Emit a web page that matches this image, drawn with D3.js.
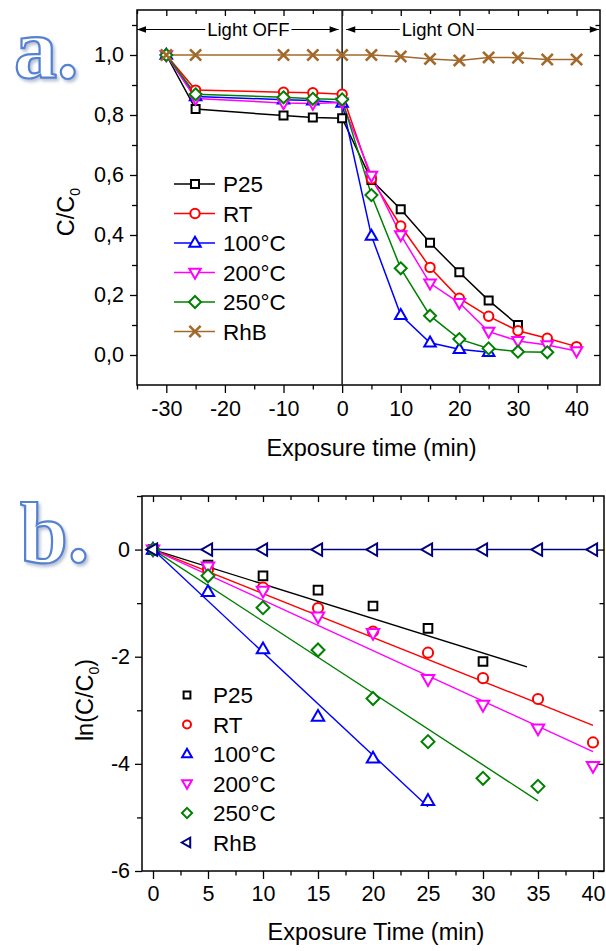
<!DOCTYPE html>
<html>
<head>
<meta charset="utf-8">
<script src="https://cdn.jsdelivr.net/npm/d3@7"></script>
<style>
  body { margin: 0; background: #fff; }
  svg { display: block; }
  text { font-family: "Liberation Sans", Arial, sans-serif; fill: #000; }
</style>
</head>
<body>
<svg id="chart" width="606" height="951"></svg>
<script>
// ---------- shared series definitions ----------
const seriesNames = ["P25", "RT", "100°C", "200°C", "250°C", "RhB"];
const colorsA = ["#000000", "#ff0000", "#0000ff", "#ff00ff", "#008000", "#a2692b"];
const colorsB = ["#000000", "#ff0000", "#0000ff", "#ff00ff", "#008000", "#000080"];
const shapesA = ["square", "circle", "triangleUp", "triangleDown", "diamond", "cross"];
const shapesB = ["square", "circle", "triangleUp", "triangleDown", "diamond", "triangleLeft"];

// ---------- panel a: C/C0 versus exposure time ----------
const timesP25A  = [-30, -25, -10, -5, 0, 5, 10, 15, 20, 25, 30];
const valuesP25A = [1.0, 0.820, 0.798, 0.792, 0.789, 0.583, 0.486, 0.374, 0.276, 0.182, 0.100];
const timesRTA   = [-30, -25, -10, -5, 0, 5, 10, 15, 20, 25, 30, 35, 40];
const valuesRTA  = [1.0, 0.883, 0.876, 0.874, 0.869, 0.587, 0.430, 0.292, 0.189, 0.129, 0.081, 0.056, 0.028];
const times100A  = [-30, -25, -10, -5, 0, 5, 10, 15, 20, 25];
const values100A = [1.0, 0.862, 0.851, 0.848, 0.840, 0.397, 0.133, 0.041, 0.019, 0.009];
const times200A  = [-30, -25, -10, -5, 0, 5, 10, 15, 20, 25, 30, 35, 40];
const values200A = [1.0, 0.855, 0.840, 0.838, 0.842, 0.598, 0.400, 0.239, 0.174, 0.078, 0.047, 0.033, 0.013];
const times250A  = [-30, -25, -10, -5, 0, 5, 10, 15, 20, 25, 30, 35];
const values250A = [1.0, 0.869, 0.859, 0.854, 0.852, 0.533, 0.289, 0.131, 0.053, 0.022, 0.011, 0.009];
const timesRhBA  = [-30, -25, -10, -5, 0, 5, 10, 15, 20, 25, 30, 35, 40];
const valuesRhBA = [1.0, 1.0, 1.0, 1.0, 1.0, 1.0, 0.995, 0.987, 0.982, 0.992, 0.991, 0.985, 0.985];

const xTicksA = [-30, -20, -10, 0, 10, 20, 30, 40];
const xMinorA = [-35, -25, -15, -5, 5, 15, 25, 35];
const yTicksA = [0.0, 0.2, 0.4, 0.6, 0.8, 1.0];
const yMinorA = [-0.1, 0.1, 0.3, 0.5, 0.7, 0.9, 1.1];

// ---------- panel b: ln(C/C0) versus exposure time ----------
const timesP25B  = [0, 5, 10, 15, 20, 25, 30];
const valuesP25B = [0, -0.29, -0.49, -0.756, -1.054, -1.47, -2.09];
const timesRTB   = [0, 5, 10, 15, 20, 25, 30, 35, 40];
const valuesRTB  = [0, -0.37, -0.71, -1.09, -1.53, -1.925, -2.40, -2.79, -3.60];
const times100B  = [0, 5, 10, 15, 20, 25];
const values100B = [0, -0.79, -1.86, -3.12, -3.90, -4.69];
const times200B  = [0, 5, 10, 15, 20, 25, 30, 35, 40];
const values200B = [0, -0.32, -0.77, -1.25, -1.56, -2.42, -2.90, -3.34, -4.04];
const times250B  = [0, 5, 10, 15, 20, 25, 30, 35];
const values250B = [0, -0.49, -1.085, -1.875, -2.78, -3.585, -4.27, -4.42];
const timesRhBB  = [0, 5, 10, 15, 20, 25, 30, 35, 40];
const valuesRhBB = [0, 0, 0, 0, 0, 0, 0, 0, 0];

// linear fits: start point and end point of each fitted line
const fitStartT = [0, 0, 0, 0, 0, 0];
const fitStartV = [0, 0, 0, 0, 0, 0];
const fitEndT   = [34, 40, 25, 40, 35, 40];
const fitEndV   = [-2.19, -3.28, -4.80, -3.77, -4.69, 0];

const xTicksB = [0, 5, 10, 15, 20, 25, 30, 35, 40];
const xMinorB = [2.5, 7.5, 12.5, 17.5, 22.5, 27.5, 32.5, 37.5];
const yTicksB = [0, -2, -4, -6];
const yMinorB = [1, -1, -3, -5];

// ---------- helpers ----------
const svg = d3.select("#chart");

function markerPath(shape, k) {
  // k scales the marker size
  const s = 4.0 * k, r = 4.7 * k, w = 11.5 * k, h = 10 * k, d = 6.0 * k, c = 5.6 * k;
  switch (shape) {
    case "square": return `M${-s},${-s}H${s}V${s}H${-s}Z`;
    case "circle": return `M${r},0A${r},${r} 0 1,1 ${-r},0A${r},${r} 0 1,1 ${r},0Z`;
    case "triangleUp": return `M0,${-h * 0.62}L${w / 2},${h * 0.38}L${-w / 2},${h * 0.38}Z`;
    case "triangleDown": return `M0,${h * 0.62}L${w / 2},${-h * 0.38}L${-w / 2},${-h * 0.38}Z`;
    case "triangleLeft": return `M${-h * 0.62},0L${h * 0.38},${-w / 2}L${h * 0.38},${w / 2}Z`;
    case "diamond": return `M0,${-d}L${d},0L0,${d}L${-d},0Z`;
    case "cross": return `M${-c},${-c}L${c},${c}M${-c},${c}L${c},${-c}`;
  }
}

function drawMarkers(g, pts, shape, color, k) {
  g.selectAll(null).data(pts).enter().append("path")
    .attr("transform", p => `translate(${p[0]},${p[1]})`)
    .attr("d", markerPath(shape, k))
    .attr("fill", shape === "cross" ? "none" : "#fff")
    .attr("stroke", color)
    .attr("stroke-width", shape === "cross" ? 2.6 : 2);
}

function styleAxis(g, fontSize) {
  g.select(".domain").remove();
  g.selectAll(".tick line").attr("stroke", "#000").attr("stroke-width", 1.3);
  g.selectAll(".tick text").attr("font-size", fontSize).attr("fill", "#000");
}

function frameAxes(x, y, xT, xM, yT, yM, opts) {
  const [x0, x1] = x.range();
  const [y0, y1] = y.range(); // y0 bottom, y1 top
  // bottom: outward ticks with labels
  const gb = svg.append("g").attr("transform", `translate(0,${y0})`)
    .call(d3.axisBottom(x).tickValues(xT).tickSize(8).tickPadding(opts.xPad).tickFormat(opts.xFmt));
  styleAxis(gb, opts.fs);
  const gbm = svg.append("g").attr("transform", `translate(0,${y0})`)
    .call(d3.axisBottom(x).tickValues(xM).tickSize(4.5).tickFormat(""));
  styleAxis(gbm, opts.fs);
  // top: inward ticks
  const gt = svg.append("g").attr("transform", `translate(0,${y1})`)
    .call(d3.axisBottom(x).tickValues(xT).tickSize(6).tickFormat(""));
  styleAxis(gt, opts.fs);
  const gtm = svg.append("g").attr("transform", `translate(0,${y1})`)
    .call(d3.axisBottom(x).tickValues(xM).tickSize(4).tickFormat(""));
  styleAxis(gtm, opts.fs);
  // left: outward ticks with labels
  const gl = svg.append("g").attr("transform", `translate(${x0},0)`)
    .call(d3.axisLeft(y).tickValues(yT).tickSize(7).tickPadding(opts.yPad).tickFormat(opts.yFmt));
  styleAxis(gl, opts.fs);
  const glm = svg.append("g").attr("transform", `translate(${x0},0)`)
    .call(d3.axisLeft(y).tickValues(yM.filter(v => y(v) < y0 - 0.5)).tickSize(5).tickFormat(""));
  styleAxis(glm, opts.fs);
  // right: inward ticks
  const gr = svg.append("g").attr("transform", `translate(${x1},0)`)
    .call(d3.axisLeft(y).tickValues(yT).tickSize(6).tickFormat(""));
  styleAxis(gr, opts.fs);
  const grm = svg.append("g").attr("transform", `translate(${x1},0)`)
    .call(d3.axisLeft(y).tickValues(yM.filter(v => y(v) < y0 - 0.5 && y(v) > y1 + 0.5)).tickSize(4.5).tickFormat(""));
  styleAxis(grm, opts.fs);
  // frame
  svg.append("rect").attr("x", x0).attr("y", y1).attr("width", x1 - x0).attr("height", y0 - y1)
    .attr("fill", "none").attr("stroke", "#000").attr("stroke-width", 1.5);
}

function addTitleX(x, label, baseline) {
  const [x0, x1] = x.range();
  svg.append("text").attr("x", (x0 + x1) / 2 + 3).attr("y", baseline)
    .attr("text-anchor", "middle").attr("font-size", 23.5).text(label);
}

function addTitleY(xPos, yCenter, pre, sub, post) {
  const t = svg.append("text").attr("transform", `translate(${xPos},${yCenter}) rotate(-90)`)
    .attr("text-anchor", "middle").attr("font-size", 23.5);
  t.append("tspan").text(pre);
  t.append("tspan").attr("font-size", 14).attr("dy", 6).text(sub);
  if (post) t.append("tspan").attr("dy", -6).text(post);
}

// decorative panel letters (outlined, with a soft shadow)
const defs = svg.append("defs");
const sh = defs.append("filter").attr("id", "softShadow").attr("x", "-20%").attr("y", "-20%")
  .attr("width", "150%").attr("height", "150%");
sh.append("feDropShadow").attr("dx", 2).attr("dy", 2.5).attr("stdDeviation", 1.6)
  .attr("flood-color", "#7d8fb0").attr("flood-opacity", 0.55);

function panelLetter(label, x, y) {
  svg.append("text").attr("x", x).attr("y", y)
    .style("font-family", "'Liberation Serif', 'Times New Roman', serif")
    .style("font-weight", "bold").style("font-size", "86px")
    .style("fill", "#ffffff").attr("stroke", "#5582d0").attr("stroke-width", 2.2)
    .attr("filter", "url(#softShadow)")
    .text(label);
}

// =============== PANEL A ===============
const xA = d3.scaleLinear().domain([-35, 44]).range([137, 600]);
const yA = d3.scaleLinear().domain([-0.1, 1.15]).range([385, 10]);

const fmtComma = d => d3.format(".1f")(d).replace(".", ",");
frameAxes(xA, yA, xTicksA, xMinorA, yTicksA, yMinorA,
  { fs: 21.5, xPad: 8, yPad: 6, xFmt: d => String(d), yFmt: fmtComma });

// light off / on divider
svg.append("line").attr("x1", xA(0)).attr("x2", xA(0)).attr("y1", yA(1.15)).attr("y2", yA(-0.1))
  .attr("stroke", "#222").attr("stroke-width", 1.6);

const seriesA = [
  [timesP25A, valuesP25A], [timesRTA, valuesRTA], [times100A, values100A],
  [times200A, values200A], [times250A, values250A], [timesRhBA, valuesRhBA]
];
const lineA = d3.line().x(p => p[0]).y(p => p[1]);
const gA = svg.append("g");
seriesA.forEach(([ts, vs], i) => {
  const pts = ts.map((t, j) => [xA(t), yA(vs[j])]);
  gA.append("path").attr("d", lineA(pts)).attr("fill", "none")
    .attr("stroke", colorsA[i]).attr("stroke-width", 1.5);
});
seriesA.forEach(([ts, vs], i) => {
  const pts = ts.map((t, j) => [xA(t), yA(vs[j])]);
  drawMarkers(gA, pts, shapesA[i], colorsA[i], 1.0);
});

// Light OFF / Light ON annotation arrows
const annotLevel = 1.085;
function arrowHead(x, y, dir) {
  const L = 9, H = 3.2;
  svg.append("path").attr("d", `M${x},${y}L${x - dir * L},${y - H}L${x - dir * L},${y + H}Z`).attr("fill", "#000");
}
function annot(label, tFrom, tTo, tCenter) {
  const ay = yA(annotLevel);
  const txt = svg.append("text").attr("x", xA(tCenter)).attr("y", ay + 6.5)
    .attr("text-anchor", "middle").attr("font-size", 18.5).text(label);
  const w = txt.node().getComputedTextLength();
  const xs = xA(tCenter) - w / 2 - 2, xe = xA(tCenter) + w / 2 + 2;
  const a = xA(tFrom), b = xA(tTo);
  svg.append("line").attr("x1", a).attr("x2", xs).attr("y1", ay).attr("y2", ay).attr("stroke", "#000").attr("stroke-width", 1.2);
  svg.append("line").attr("x1", xe).attr("x2", b).attr("y1", ay).attr("y2", ay).attr("stroke", "#000").attr("stroke-width", 1.2);
  arrowHead(a, ay, -1);
  arrowHead(b, ay, 1);
}
annot("Light OFF", -35, -0.6, -16);
annot("Light ON", 0.7, 43.8, 16.4);

// legend a
const legA = svg.append("g");
seriesNames.forEach((name, i) => {
  const yy = 184 + i * 29.5;
  legA.append("line").attr("x1", 174).attr("x2", 215).attr("y1", yy).attr("y2", yy)
    .attr("stroke", colorsA[i]).attr("stroke-width", 1.5);
  drawMarkers(legA, [[195, yy]], shapesA[i], colorsA[i], 1.0);
  legA.append("text").attr("x", 223).attr("y", yy + 8).attr("font-size", 22.5).text(name);
});

addTitleX(xA, "Exposure time (min)", 456);
addTitleY(74, 212, "C/C", "0", null);
panelLetter("a.", 14, 78);

// =============== PANEL B ===============
const xB = d3.scaleLinear().domain([-1, 41]).range([142, 604]);
const yB = d3.scaleLinear().domain([-6, 1]).range([871, 496]);

frameAxes(xB, yB, xTicksB, xMinorB, yTicksB, yMinorB,
  { fs: 21.5, xPad: 7, yPad: 5, xFmt: d => String(d), yFmt: d => String(d) });

const seriesB = [
  [timesP25B, valuesP25B], [timesRTB, valuesRTB], [times100B, values100B],
  [times200B, values200B], [times250B, values250B], [timesRhBB, valuesRhBB]
];
const gB = svg.append("g");
// fitted lines
seriesNames.forEach((_, i) => {
  gB.append("line")
    .attr("x1", xB(fitStartT[i])).attr("y1", yB(fitStartV[i]))
    .attr("x2", xB(fitEndT[i])).attr("y2", yB(fitEndV[i]))
    .attr("stroke", colorsB[i]).attr("stroke-width", 1.4);
});
// data points
seriesB.forEach(([ts, vs], i) => {
  const pts = ts.map((t, j) => [xB(t), yB(vs[j])]);
  drawMarkers(gB, pts, shapesB[i], colorsB[i], 1.08);
});

// legend b
const legB = svg.append("g");
seriesNames.forEach((name, i) => {
  const yy = 695 + i * 29.5;
  drawMarkers(legB, [[187, yy]], shapesB[i], colorsB[i], 0.85);
  legB.append("text").attr("x", 213).attr("y", yy + 8).attr("font-size", 22.5).text(name);
});

addTitleX(xB, "Exposure Time (min)", 940);
addTitleY(93, 700, "ln(C/C", "0", ")");
panelLetter("b.", 20, 562);
</script>
</body>
</html>
